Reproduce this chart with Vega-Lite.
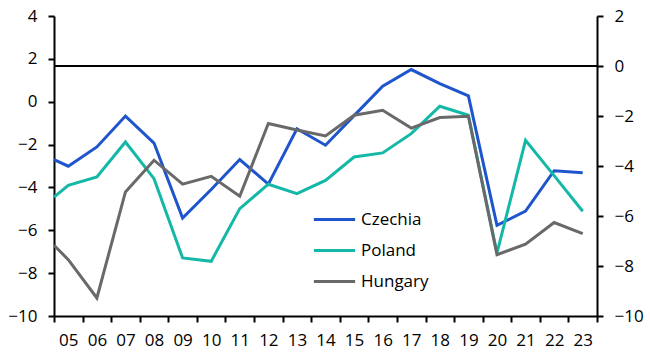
{
  "$schema": "https://vega.github.io/schema/vega-lite/v6.json",
  "width": 543,
  "height": 300,
  "autosize": "none",
  "padding": {"left": 54, "top": 16, "right": 53, "bottom": 39},
  "background": "white",
  "config": {
    "view": {"stroke": null},
    "font": "Open Sans",
    "axis": {"labelFont": "Open Sans", "labelFontSize": 17, "labelColor": "#000", "domainColor": "#000", "tickColor": "#000", "domainWidth": 2, "tickWidth": 2, "tickSize": 6, "grid": false, "title": null}
  },
  "datasets": {
    "series": [
      {"year": 2005.0, "country": "Czechia", "value": -2.70},
      {"year": 2005.5, "country": "Czechia", "value": -3.01},
      {"year": 2006.5, "country": "Czechia", "value": -2.11},
      {"year": 2007.5, "country": "Czechia", "value": -0.67},
      {"year": 2008.5, "country": "Czechia", "value": -1.93},
      {"year": 2009.5, "country": "Czechia", "value": -5.43},
      {"year": 2010.5, "country": "Czechia", "value": -4.10},
      {"year": 2011.5, "country": "Czechia", "value": -2.70},
      {"year": 2012.5, "country": "Czechia", "value": -3.85},
      {"year": 2013.5, "country": "Czechia", "value": -1.26},
      {"year": 2014.5, "country": "Czechia", "value": -2.03},
      {"year": 2015.5, "country": "Czechia", "value": -0.65},
      {"year": 2016.5, "country": "Czechia", "value": 0.72},
      {"year": 2017.5, "country": "Czechia", "value": 1.50},
      {"year": 2018.5, "country": "Czechia", "value": 0.84},
      {"year": 2019.5, "country": "Czechia", "value": 0.27},
      {"year": 2020.5, "country": "Czechia", "value": -5.77},
      {"year": 2021.5, "country": "Czechia", "value": -5.10},
      {"year": 2022.5, "country": "Czechia", "value": -3.22},
      {"year": 2023.5, "country": "Czechia", "value": -3.31},
      {"year": 2005.0, "country": "Poland", "value": -4.45},
      {"year": 2005.5, "country": "Poland", "value": -3.90},
      {"year": 2006.5, "country": "Poland", "value": -3.51},
      {"year": 2007.5, "country": "Poland", "value": -1.88},
      {"year": 2008.5, "country": "Poland", "value": -3.59},
      {"year": 2009.5, "country": "Poland", "value": -7.29},
      {"year": 2010.5, "country": "Poland", "value": -7.45},
      {"year": 2011.5, "country": "Poland", "value": -4.99},
      {"year": 2012.5, "country": "Poland", "value": -3.85},
      {"year": 2013.5, "country": "Poland", "value": -4.29},
      {"year": 2014.5, "country": "Poland", "value": -3.67},
      {"year": 2015.5, "country": "Poland", "value": -2.58},
      {"year": 2016.5, "country": "Poland", "value": -2.39},
      {"year": 2017.5, "country": "Poland", "value": -1.49},
      {"year": 2018.5, "country": "Poland", "value": -0.21},
      {"year": 2019.5, "country": "Poland", "value": -0.63},
      {"year": 2020.5, "country": "Poland", "value": -7.06},
      {"year": 2021.5, "country": "Poland", "value": -1.80},
      {"year": 2022.5, "country": "Poland", "value": -3.45},
      {"year": 2023.5, "country": "Poland", "value": -5.11},
      {"year": 2005.0, "country": "Hungary", "value": -6.70},
      {"year": 2005.5, "country": "Hungary", "value": -7.37},
      {"year": 2006.5, "country": "Hungary", "value": -9.16},
      {"year": 2007.5, "country": "Hungary", "value": -4.21},
      {"year": 2008.5, "country": "Hungary", "value": -2.73},
      {"year": 2009.5, "country": "Hungary", "value": -3.85},
      {"year": 2010.5, "country": "Hungary", "value": -3.48},
      {"year": 2011.5, "country": "Hungary", "value": -4.41},
      {"year": 2012.5, "country": "Hungary", "value": -1.02},
      {"year": 2013.5, "country": "Hungary", "value": -1.32},
      {"year": 2014.5, "country": "Hungary", "value": -1.60},
      {"year": 2015.5, "country": "Hungary", "value": -0.63},
      {"year": 2016.5, "country": "Hungary", "value": -0.40},
      {"year": 2017.5, "country": "Hungary", "value": -1.23},
      {"year": 2018.5, "country": "Hungary", "value": -0.74},
      {"year": 2019.5, "country": "Hungary", "value": -0.68},
      {"year": 2020.5, "country": "Hungary", "value": -7.14},
      {"year": 2021.5, "country": "Hungary", "value": -6.65},
      {"year": 2022.5, "country": "Hungary", "value": -5.64},
      {"year": 2023.5, "country": "Hungary", "value": -6.16}
    ],
    "zero": [{"level": 0}]
  },
  "layer": [
    {
      "data": {"name": "series"},
      "mark": {"type": "line", "strokeWidth": 3, "strokeJoin": "miter"},
      "encoding": {
        "x": {
          "field": "year", "type": "quantitative",
          "scale": {"domain": [2005, 2024], "nice": false, "zero": false},
          "axis": {
            "values": [2005,2006,2007,2008,2009,2010,2011,2012,2013,2014,2015,2016,2017,2018,2019,2020,2021,2022,2023,2024],
            "labelExpr": "datum.value == 2024 ? '' : substring(toString(datum.value), 2)",
            "labelOffset": 14.3, "labelPadding": 10, "labelFlush": false, "labelOverlap": false, "labelBound": false
          }
        },
        "y": {
          "field": "value", "type": "quantitative",
          "scale": {"domain": [-10, 4], "nice": false},
          "axis": {"orient": "left", "values": [-10,-8,-6,-4,-2,0,2,4], "labelPadding": 11, "format": "d"}
        },
        "color": {
          "field": "country", "type": "nominal",
          "scale": {"domain": ["Czechia", "Poland", "Hungary"], "range": ["#1f55cc", "#13b8a6", "#696969"]},
          "legend": {
            "title": null, "orient": "none", "legendX": 258, "legendY": 181,
            "symbolType": "stroke", "symbolSize": 1700, "symbolStrokeWidth": 3,
            "labelFontSize": 17, "labelFont": "Open Sans", "labelColor": "#000",
            "rowPadding": -12.5, "labelOffset": 4
          }
        }
      }
    },
    {
      "data": {"name": "zero"},
      "mark": {"type": "rule", "color": "#000", "strokeWidth": 2},
      "encoding": {
        "y": {
          "field": "level", "type": "quantitative",
          "scale": {"domain": [-10, 2], "nice": false},
          "axis": {"orient": "right", "values": [-10,-8,-6,-4,-2,0,2], "labelPadding": 11, "format": "d"}
        }
      }
    }
  ],
  "resolve": {"scale": {"y": "independent"}}
}
